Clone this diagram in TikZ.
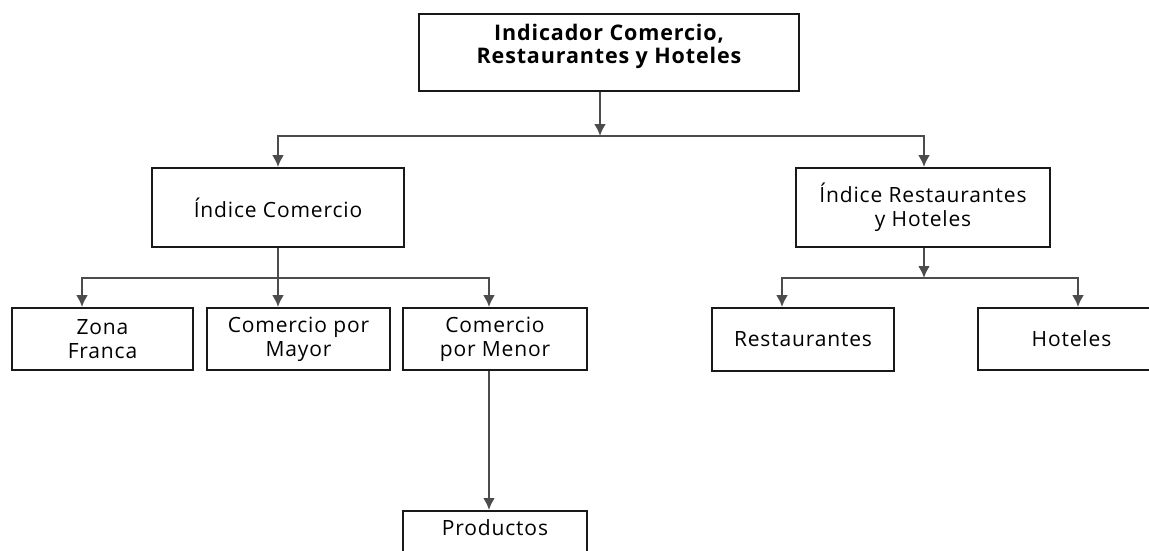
\documentclass[tikz,border=0pt]{standalone}
\usepackage{fontspec}
\setmainfont[LetterSpace=4]{Open Sans}
\usetikzlibrary{arrows,arrows.meta,calc,positioning}
\tikzstyle{int}=[draw=black!90,line width=1.8pt,align=center,inner sep=0pt,font=\fontsize{21}{24}\selectfont]
\tikzstyle{lnk}=[draw=black!70,line width=2.8pt]

\begin{document}
\begin{tikzpicture}[
      x=1pt,y=-1pt,
      >={Latex[length=12pt,width=12pt]},
      auto
    ]
      \useasboundingbox (0,0) rectangle (1149,550);

      \node [int,minimum width=380,minimum height=77,text depth=17pt,font=\fontsize{21.5}{23}\selectfont\bfseries] (ind) at (609,52.5) {Indicador Comercio,\\Restaurantes y Hoteles};

      \node [int,minimum width=252,minimum height=79] (icom) at (278,207.5) {Índice Comercio};
      \node [int,minimum width=254,minimum height=79] (irh)  at (923,207.5) {Índice Restaurantes\\y Hoteles};

      \node [int,minimum width=181,minimum height=62] (zona)  at (102.5,339) {Zona\\Franca};
      \node [int,minimum width=183,minimum height=62] (mayor) at (298.5,339) {Comercio por\\Mayor};
      \node [int,minimum width=184,minimum height=62] (menor) at (495,339) {Comercio\\por Menor};

      \node [int,minimum width=182,minimum height=63] (rest) at (803,339.5) {Restaurantes};
      \node [int,minimum width=187,minimum height=62] (hot)  at (1071.5,339) {Hoteles};

      \node [int,minimum width=184,anchor=north,inner ysep=9pt,text height=16pt,text depth=40pt] (prod) at (495,510) {Productos};

      % junctions
      \coordinate (b1) at (600,136);
      \coordinate (b2) at (278,278);
      \coordinate (b3) at (924,278);
      \coordinate (c1) at (82,0);
      \coordinate (c3) at (489,0);
      \coordinate (c4) at (782,0);
      \coordinate (c5) at (1078,0);

      \draw[lnk,->] (ind.south -| b1) -- (b1);
      \draw[lnk,->] (b1) -| (icom.north);
      \draw[lnk,->] (b1) -| (irh.north -| b3);

      \draw[lnk] (icom.south) -- (b2);
      \draw[lnk,->] (b2) -| (c1 |- zona.north);
      \draw[lnk,->] (b2) -- (b2 |- mayor.north);
      \draw[lnk,->] (b2) -| (c3 |- menor.north);

      \draw[lnk,->] (irh.south -| b3) -- (b3);
      \draw[lnk,->] (b3) -| (c4 |- rest.north);
      \draw[lnk,->] (b3) -| (c5 |- hot.north);

      \draw[lnk,->] (c3 |- menor.south) -- (c3 |- prod.north);
\end{tikzpicture}
\end{document}
